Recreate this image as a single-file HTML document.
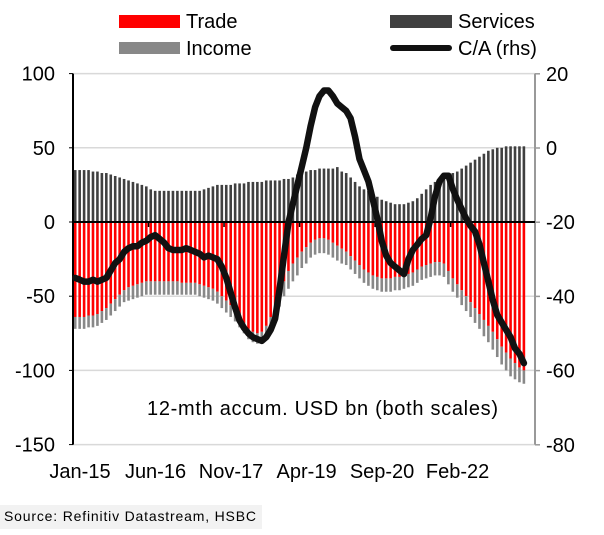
<!DOCTYPE html>
<html><head><meta charset="utf-8"><style>
html,body{margin:0;padding:0;background:#fff;}
svg text{font-family:"Liberation Sans Narrow","Liberation Sans",sans-serif;fill:#000;}
</style></head><body>
<svg width="604" height="530" viewBox="0 0 604 530" xmlns="http://www.w3.org/2000/svg">
<rect x="0" y="505" width="262" height="24" fill="#f2f2f2"/>
<text x="4" y="521" font-size="14" textLength="252">Source: Refinitiv Datastream, HSBC</text>
<g id="legend">
<rect x="119" y="15" width="61" height="13" fill="#ff0000"/>
<text x="186" y="28" font-size="20">Trade</text>
<rect x="119" y="42" width="61" height="12" fill="#888888"/>
<text x="186" y="55" font-size="20">Income</text>
<rect x="390" y="15" width="62" height="13" fill="#404040"/>
<text x="458" y="28" font-size="20">Services</text>
<line x1="393" y1="48" x2="449" y2="48" stroke="#111" stroke-width="6" stroke-linecap="round"/>
<text x="458" y="55" font-size="20">C/A (rhs)</text>
</g>
<g id="grid"></g>
<g id="bars"></g>
<g id="axes"></g>
<g id="line"></g>
<text x="147" y="415" font-size="20" textLength="351">12-mth accum. USD bn (both scales)</text>
</svg>
<script>
const services=[35,35,35,35,34,34,33,33,32,31,30,29,28,27,26,25,24,22,21,21,21,21,21,21,21,21,21,21,21,22,23,24,25,25,25,25,26,26,26,27,27,27,27,28,28,28,28,29,29,30,32,34,34,35,35,36,36,36,36,37,34,33,30,27,24,22,21,19,17,15,14,13,12,12,12,13,14,16,19,22,25,27,29,31,32,33,34,36,38,40,42,44,46,48,49,50,50,51,51,51,51,51];
const trade=[-64,-64,-64,-63,-63,-62,-60,-58,-55,-52,-49,-46,-44,-43,-42,-41,-40,-40,-40,-40,-40,-40,-40,-40,-41,-41,-41,-41,-42,-43,-44,-45,-47,-50,-53,-56,-60,-64,-68,-72,-74,-75,-74,-70,-64,-56,-48,-40,-33,-28,-24,-20,-17,-14,-12,-11,-11,-12,-14,-16,-18,-20,-23,-26,-29,-32,-34,-36,-37,-38,-38,-38,-37,-37,-36,-35,-34,-32,-30,-29,-28,-27,-27,-28,-33,-38,-42,-46,-50,-54,-58,-62,-66,-70,-74,-79,-84,-88,-92,-95,-98,-100];
const income=[-8,-8,-8,-8,-8,-8,-8,-8,-8,-8,-8,-8,-9,-9,-9,-9,-9,-9,-9,-9,-9,-9,-9,-9,-8,-8,-8,-8,-8,-8,-8,-8,-8,-8,-8,-8,-7,-7,-7,-7,-7,-7,-7,-7,-8,-8,-9,-10,-12,-12,-12,-11,-11,-10,-10,-10,-10,-10,-10,-10,-10,-9,-9,-9,-9,-9,-9,-9,-9,-9,-9,-9,-9,-9,-9,-9,-9,-9,-9,-9,-9,-9,-9,-9,-9,-9,-9,-10,-10,-10,-10,-10,-11,-11,-12,-12,-12,-12,-12,-11,-10,-9];
const ca=[-35,-35.5,-36,-36,-35.5,-36,-35.5,-35,-33,-31,-30,-28,-27,-26.5,-26.5,-25.5,-25,-24,-23.5,-24.5,-25.5,-27,-27.5,-27.5,-27.5,-27,-27.5,-28,-28.5,-29.5,-29,-29.5,-30,-32,-35,-39,-43,-46.5,-48.5,-50,-51,-51.5,-52,-51,-49,-46,-38,-29,-20,-15,-10,-5,0,6,11,14,15.5,15.5,14,12,11,10,8,3,-3,-6,-9,-14,-19,-25,-29,-31,-32,-33,-34,-30,-27.5,-26,-24.5,-23.5,-19,-13,-9,-7.5,-7.5,-11,-14,-16.5,-19,-21,-22.5,-26,-31,-36,-41,-45,-47,-49,-51,-54,-55.5,-58];
const xLabels=["Jan-15","Jun-16","Nov-17","Apr-19","Sep-20","Feb-22"];
const leftTicks=[100,50,0,-50,-100,-150];
const rightTicks=[20,0,-20,-40,-60,-80];

const NS="http://www.w3.org/2000/svg";
const X0=73,X1=535,STEP=(X1-X0)/104;
const yL=v=>222-v*1.484;
const yR=v=>148-v*3.71;
const xc=i=>X0+STEP*(i+0.5);
function mk(tag,attrs,parent){const e=document.createElementNS(NS,tag);for(const k in attrs)e.setAttribute(k,attrs[k]);parent.appendChild(e);return e;}
const grid=document.getElementById('grid'),bars=document.getElementById('bars'),axes=document.getElementById('axes'),line=document.getElementById('line');
leftTicks.forEach((t,k)=>{
  if(t!==0){const g=mk('line',{x1:X0,x2:X1,y1:yL(t),y2:yL(t),stroke:'#d9d9d9','stroke-width':1.5},grid);
  
  }
  const tx=mk('text',{x:55,y:yL(t)+7,'font-size':20,'text-anchor':'end'},axes);tx.textContent=t;
  
  
  mk('line',{x1:X0-4,x2:X0,y1:yL(t),y2:yL(t),stroke:'#000','stroke-width':1},axes);
});
rightTicks.forEach(t=>{
  const tx=mk('text',{x:546,y:yR(t)+7,'font-size':20},axes);tx.textContent=t;
  
  
  mk('line',{x1:X1,x2:X1+5,y1:yR(t),y2:yR(t),stroke:'#999','stroke-width':1.5},axes);
});
const bw=2.6;
for(let i=0;i<services.length;i++){
  const x=xc(i)-bw/2;
  const s=mk('rect',{x:x,y:yL(services[i]),width:bw,height:yL(0)-yL(services[i]),fill:'#404040'},bars);
  
  
  const tr=mk('rect',{x:x,y:yL(0),width:bw,height:yL(trade[i])-yL(0),fill:'#ff0000'},bars);
  
  
  const inc=mk('rect',{x:x,y:yL(trade[i]),width:bw,height:yL(trade[i]+income[i])-yL(trade[i]),fill:'#888888'},bars);
  
  
}
const la=mk('line',{x1:X0,x2:X0,y1:yL(100),y2:yL(-150),stroke:'#000','stroke-width':2},axes);


const ra=mk('line',{x1:X1,x2:X1,y1:yL(100),y2:yL(-150),stroke:'#999','stroke-width':2},axes);


const za=mk('line',{x1:X0,x2:X1,y1:yL(0),y2:yL(0),stroke:'#000','stroke-width':2},axes);


xLabels.forEach((l,k)=>{
  const xt=X0+STEP*17*k;
  mk('line',{x1:xt,x2:xt,y1:yL(0),y2:yL(0)+5,stroke:'#000','stroke-width':1.5},axes);
  const tx=mk('text',{x:xt+7,y:478,'font-size':20,'text-anchor':'middle'},axes);tx.textContent=l;
  
  
});
const pts=ca.map((v,i)=>xc(i).toFixed(1)+','+yR(v).toFixed(1)).join(' ');
const pl=mk('polyline',{points:pts,fill:'none',stroke:'#111','stroke-width':6.5,'stroke-linejoin':'round','stroke-linecap':'round'},line);


</script>
</body></html>
